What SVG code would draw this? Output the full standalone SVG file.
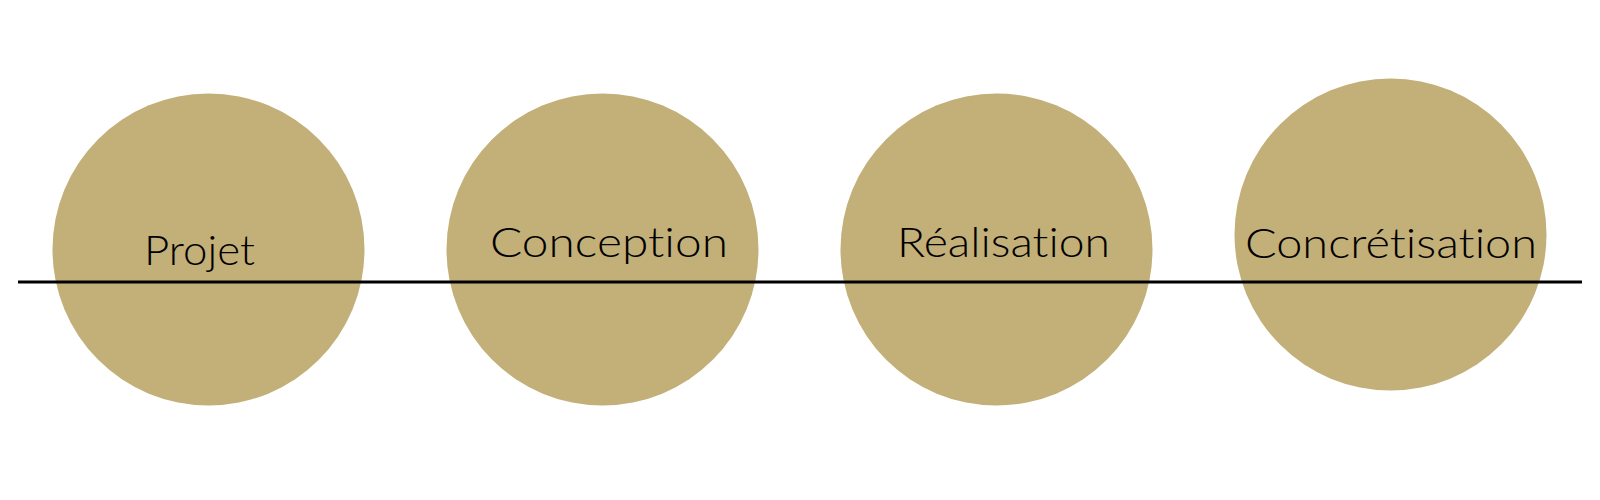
<svg xmlns="http://www.w3.org/2000/svg" width="1600" height="500" viewBox="0 0 1600 500">
<style>
.c{fill:#C3AF78}
.t{font-family:"Lato","DejaVu Sans","Liberation Sans",sans-serif;font-weight:300;font-size:41px;fill:#000;font-variant-ligatures:none;font-feature-settings:"liga" 0,"clig" 0,"dlig" 0}
.l{stroke:#000;stroke-width:3;fill:none}
</style>
<rect width="1600" height="500" fill="#fff"/>
<g id="node-projet"><circle class="c" cx="208.5" cy="249.5" r="156"/><text class="t" x="144" y="265" textLength="111" lengthAdjust="spacingAndGlyphs">Projet</text></g>
<g id="node-conception"><circle class="c" cx="602.5" cy="249.5" r="156"/><text class="t" x="490" y="257" textLength="238" lengthAdjust="spacingAndGlyphs">Conception</text></g>
<g id="node-realisation"><circle class="c" cx="996.5" cy="249.5" r="156"/><text class="t" x="897" y="257" textLength="213" lengthAdjust="spacingAndGlyphs">Réalisation</text></g>
<g id="node-concretisation"><circle class="c" cx="1390.5" cy="234.5" r="156"/><text class="t" x="1245" y="258" textLength="292" lengthAdjust="spacingAndGlyphs">Concrétisation</text></g>
<g id="connectors"><line class="l" x1="18" y1="282" x2="1582" y2="282"/></g>
</svg>
